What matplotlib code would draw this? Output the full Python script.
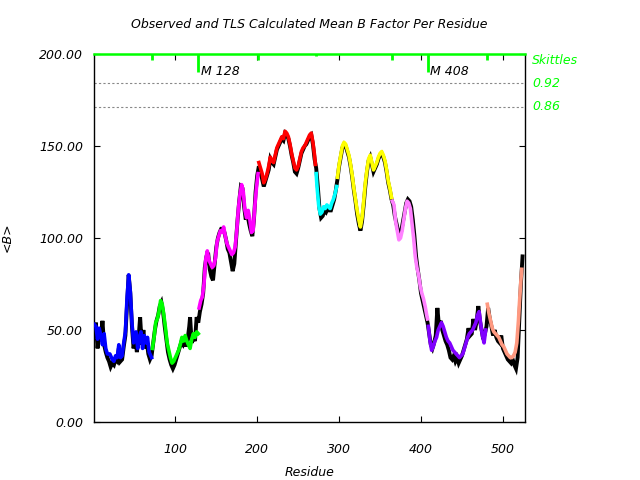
import numpy as np
import matplotlib
matplotlib.use('Agg')
import matplotlib.pyplot as plt
from matplotlib.ticker import FormatStrFormatter
import matplotlib.transforms as mtransforms

# TLS segments (first residue of each) and their colours
seg_start = [1, 72, 129, 202, 272, 298, 365, 409, 481]
seg_color = ['#0000ff', '#00ff00', '#ff00ff', '#ff0000', '#00ffff',
             '#ffff00', '#ff80ff', '#8000ff', '#ff9980']

# TLS calculated mean B per residue
tls_res = [1, 3, 5, 7, 9, 11, 13, 15, 17, 20, 23, 25, 27, 29, 31, 33, 35, 37, 39, 41,
           43, 45, 47, 49, 52, 54, 56, 58, 60, 62, 64, 66, 68, 71,
           72, 74, 76, 78, 80, 82, 84, 86, 88, 90, 92, 94, 96, 98, 100, 102, 104, 106,
           108, 110, 112, 114, 116, 118, 120, 122, 124, 126, 128,
           129, 131, 133, 135, 137, 139, 141, 143, 145, 147, 149, 151, 153, 155, 157,
           159, 161, 163, 165, 167, 169, 171, 173, 175, 177, 179, 181, 183, 185, 187,
           189, 191, 193, 195, 197, 199, 201,
           202, 204, 206, 208, 210, 212, 214, 216, 218, 220, 222, 224, 226, 228, 230,
           232, 234, 236, 238, 240, 242, 244, 246, 248, 250, 252, 254, 256, 258, 260,
           262, 264, 266, 268, 270, 271,
           272, 273, 275, 277, 279, 281, 283, 285, 287, 289, 291, 293, 295, 297,
           298, 300, 302, 304, 306, 308, 310, 312, 314, 316, 318, 320, 322, 324, 326,
           328, 330, 332, 334, 336, 338, 340, 342, 344, 346, 348, 350, 352, 354, 356,
           358, 360, 362, 364,
           365, 367, 369, 371, 373, 375, 377, 379, 381, 383, 385, 387, 389, 391, 393,
           395, 397, 399, 401, 403, 405, 407, 408,
           409, 411, 413, 415, 417, 419, 421, 423, 425, 427, 429, 431, 433, 435, 437,
           439, 441, 443, 445, 447, 449, 451, 453, 455, 457, 459, 461, 463, 465, 467,
           469, 471, 473, 475, 477, 479,
           481, 483, 485, 487, 489, 491, 493, 495, 497, 499, 501, 503, 505, 507, 509,
           511, 513, 515, 517, 519, 520, 521, 522, 523]
tls_b = [53, 52, 45, 51, 47, 42, 48, 40, 37, 37, 34, 33, 36, 35, 42, 35, 36, 43, 49, 67,
         80, 71, 54, 43, 49, 40, 46, 49, 40, 47, 43, 46, 38, 35,
         40, 46, 54, 56, 60, 66, 64, 58, 51, 43, 39, 35, 32, 33, 35, 37, 39, 42,
         46, 44, 47, 44, 42, 40, 45, 48, 46, 49, 48,
         62, 66, 68, 75, 88, 93, 88, 86, 84, 85, 89, 98, 101, 104, 103,
         106, 101, 97, 95, 93, 91, 92, 95, 104, 116, 124, 129, 125, 115, 111,
         115, 110, 103, 104, 117, 127, 135,
         141, 138, 135, 130, 132, 135, 139, 144, 142, 141, 145, 149, 151, 153, 155,
         154, 158, 157, 155, 151, 146, 142, 138, 137, 139, 143, 147, 149, 150, 152,
         154, 156, 157, 152, 145, 140,
         135, 128, 118, 113, 114, 117, 116, 118, 117, 116, 119, 121, 124, 128,
         133, 140, 145, 150, 152, 151, 148, 145, 140, 134, 127, 121, 115, 110, 106,
         111, 120, 130, 137, 143, 145, 141, 137, 139, 141, 144, 146, 147, 145, 142,
         137, 131, 127, 122,
         120, 118, 109, 104, 99, 100, 104, 110, 116, 120, 119, 116, 108, 100, 90,
         84, 80, 74, 70, 67, 63, 58, 56,
         52, 44, 39, 41, 44, 46, 50, 52, 54, 52, 49, 46, 44, 43, 41,
         39, 38, 37, 36, 35, 36, 37, 40, 43, 46, 48, 49, 50, 52, 54,
         58, 60, 53, 47, 43, 50,
         64, 59, 55, 51, 49, 48, 47, 46, 44, 42, 41, 39, 37, 36, 35,
         35, 36, 38, 43, 55, 63, 70, 77, 83]

# observed mean B per residue
obs_res = [1, 2, 3, 5, 7, 9, 11, 13, 15, 17, 19, 21, 23, 25, 27, 29, 31, 33, 35, 37,
           39, 41, 43, 45, 47, 49, 51, 53, 55, 57, 59, 61, 63, 65, 67, 69, 71, 73, 75,
           77, 79, 81, 83, 85, 87, 89, 91, 93, 95, 97, 99, 101, 103, 105, 107, 109, 111,
           113, 115, 117, 118, 120, 122, 124, 126, 128, 130, 132, 134, 136, 138, 140,
           142, 144, 146, 148, 150, 152, 154, 156, 158, 160, 162, 164, 166, 168, 170,
           172, 174, 176, 178, 180, 182, 184, 186, 188, 190, 192, 194, 196, 198, 200,
           202, 204, 206, 208, 210, 212, 214, 216, 218, 220, 222, 224, 226, 228, 230,
           232, 234, 236, 238, 240, 242, 244, 246, 248, 250, 252, 254, 256, 258, 260,
           262, 264, 266, 268, 270, 272, 274, 276, 278, 280, 282, 284, 286, 288, 290,
           292, 294, 296, 298, 300, 302, 304, 306, 308, 310, 312, 314, 316, 318, 320,
           322, 324, 326, 328, 330, 332, 334, 336, 338, 340, 342, 344, 346, 348, 350,
           352, 354, 356, 358, 360, 362, 364, 366, 368, 370, 372, 374, 376, 378, 380,
           382, 384, 386, 388, 390, 392, 394, 396, 398, 400, 402, 404, 406, 408, 410,
           412, 414, 416, 418, 420, 422, 424, 426, 428, 430, 432, 434, 436, 438, 440,
           442, 444, 446, 448, 450, 452, 454, 456, 458, 460, 462, 464, 466, 468, 470,
           472, 474, 476, 478, 480, 482, 484, 486, 488, 490, 492, 494, 496, 498, 500,
           502, 504, 506, 508, 510, 512, 514, 516, 518, 520, 522, 524]
obs_b = [50, 45, 54, 40, 49, 44, 55, 42, 38, 35, 33, 30, 32, 31, 34, 33, 40, 33, 34, 41,
         47, 64, 80, 70, 52, 40, 46, 38, 45, 57, 42, 50, 40, 44, 37, 34, 36, 43, 50,
         55, 58, 63, 65, 60, 52, 45, 38, 34, 31, 29, 31, 34, 37, 40, 43, 42, 46,
         41, 45, 52, 57, 43, 46, 44, 57, 54, 60, 64, 70, 84, 90, 92,
         83, 79, 77, 86, 95, 100, 103, 105, 105, 103, 99, 94, 92, 87, 82,
         86, 98, 110, 120, 128, 127, 117, 110, 113, 108, 104, 101, 110, 125, 134,
         139, 136, 132, 128, 131, 134, 137, 143, 141, 140, 144, 148, 150, 152, 154,
         153, 157, 156, 154, 150, 145, 141, 136, 135, 138, 142, 146, 148, 150, 151,
         153, 155, 156, 151, 143, 138, 128, 116, 111, 112, 115, 114, 116, 115, 115,
         118, 121, 126, 132, 139, 144, 149, 151, 150, 147, 144, 139, 133, 126, 120,
         113, 108, 104, 109, 118, 128, 136, 142, 144, 140, 136, 138, 140, 143, 145,
         146, 144, 141, 136, 130, 126, 121, 118, 112, 108, 104, 102, 104, 109, 114,
         119, 121, 120, 117, 110, 101, 90, 83, 77, 70, 66, 62, 58, 54, 48,
         42, 40, 43, 47, 62, 52, 55, 50, 47, 44, 42, 39, 35, 34, 36,
         33, 35, 32, 34, 36, 39, 42, 45, 51, 47, 48, 56, 50, 55, 63,
         55, 50, 45, 48, 52, 62, 56, 52, 47, 50, 46, 44, 43, 47, 40,
         38, 36, 34, 33, 32, 34, 31, 29, 35, 55, 75, 90]

# skittles markers along the top
skit_res = [71, 201, 272, 365, 481]
skit_len = [3, 3, 1, 3, 3]
mark_res = [128, 408]
mark_len = [10, 10]
sig_levels = [184, 171.4]
sig_labels = ['0.92', '0.86']

green = '#00ff00'
fs = 9

fig = plt.figure(figsize=(6.4, 4.8), dpi=100)
ax = fig.add_axes([0.1473, 0.1208, 0.6730, 0.7667])

ax.plot(obs_res, obs_b, color='black', lw=2.8, solid_joinstyle='miter', zorder=2)

tr = np.array(tls_res)
tb = np.array(tls_b)
bounds = seg_start + [10000]
for i in range(len(seg_start)):
    m = (tr >= bounds[i]) & (tr < bounds[i + 1])
    ax.plot(tr[m], tb[m], color=seg_color[i], lw=2.6, zorder=3)

for lv in sig_levels:
    ax.axhline(lv, color='#888888', lw=0.8, ls=(0, (2, 2)), zorder=1)

ax.vlines(skit_res, [200 - l for l in skit_len], 200, color=green, lw=2, zorder=4)
ax.vlines(mark_res, [200 - l for l in mark_len], 200, color=green, lw=2, zorder=4)
for r in mark_res:
    ax.text(r + 3, 190.5, 'M %d' % r, fontsize=fs, style='italic', ha='left', va='center')

trans = mtransforms.blended_transform_factory(ax.transAxes, ax.transData)
ax.text(1.016, 196.2, 'Skittles', color=green, fontsize=fs, style='italic',
        ha='left', va='center', transform=trans)
for lv, lab in zip(sig_levels, sig_labels):
    ax.text(1.016, lv, lab, color=green, fontsize=fs, style='italic',
            ha='left', va='center', transform=trans)

ax.set_xlim(1, 527)
ax.set_ylim(0, 200)
ax.set_xticks([100, 200, 300, 400, 500])
ax.set_yticks([0, 50, 100, 150, 200])
ax.yaxis.set_major_formatter(FormatStrFormatter('%.2f'))
ax.tick_params(axis='both', direction='in', length=4, width=0.8,
               top=True, right=True, labelsize=fs)
ax.tick_params(axis='x', pad=15)
ax.tick_params(axis='y', pad=8)
for lab in ax.get_xticklabels() + ax.get_yticklabels():
    lab.set_style('italic')
for s in ['left', 'right', 'bottom']:
    ax.spines[s].set_linewidth(1.0)
ax.spines['top'].set_color(green)
ax.spines['top'].set_linewidth(1.8)

ax.set_xlabel('Residue', fontsize=fs, style='italic')
ax.xaxis.set_label_coords(0.5, -0.12)
ax.set_ylabel('<B>', fontsize=fs, style='italic')
ax.yaxis.set_label_coords(-0.186, 0.503)

fig.text(309.6 / 640, 1 - 25 / 480, 'Observed and TLS Calculated Mean B Factor Per Residue',
         fontsize=fs, style='italic', ha='center', va='center')

fig.savefig('out.png', dpi=100)
